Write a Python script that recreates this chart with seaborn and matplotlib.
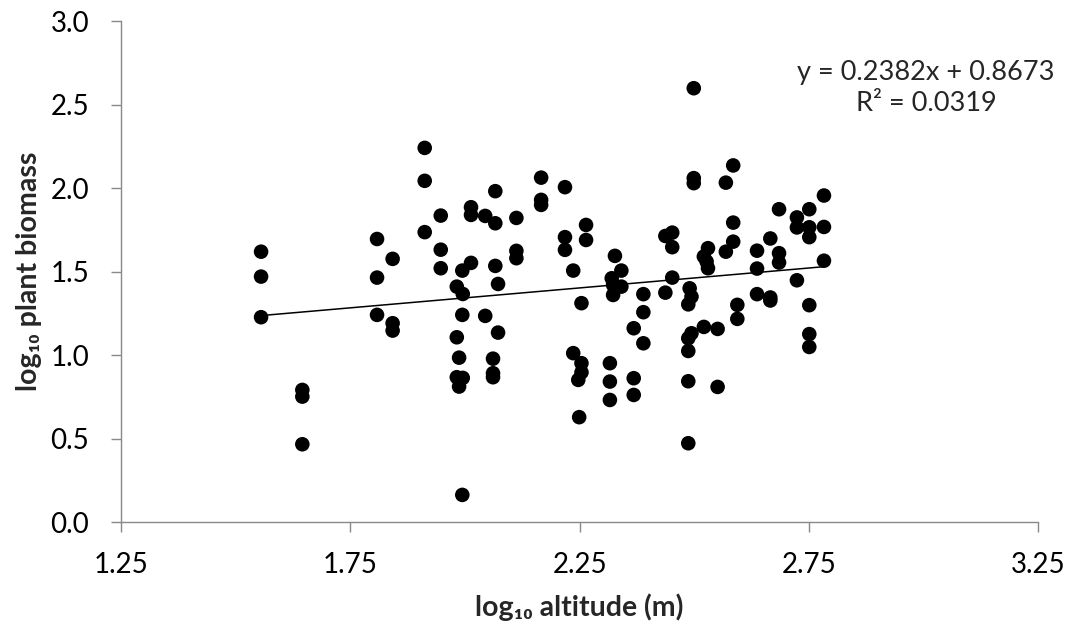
import numpy as np
import pandas as pd
import seaborn as sns
import matplotlib
matplotlib.use("Agg")
import matplotlib.pyplot as plt

# log10 altitude (m) and log10 plant biomass
altitude = [
    1.555, 1.555, 1.555,
    1.645, 1.645, 1.645,
    1.808, 1.808, 1.808,
    1.842, 1.842, 1.842,
    1.912, 1.912, 1.912,
    1.947, 1.947, 1.947,
    1.982, 1.982, 1.982,
    1.995, 1.995, 1.994, 1.994, 1.994,
    1.987, 1.987,
    2.013, 2.013, 2.013,
    2.044, 2.044,
    2.066, 2.066, 2.066,
    2.072, 2.072,
    2.061, 2.061, 2.061,
    2.112, 2.112, 2.112,
    2.166, 2.166, 2.166,
    2.218, 2.218, 2.218,
    2.236, 2.236,
    2.254, 2.254, 2.254,
    2.247, 2.249,
    2.264, 2.264,
    2.327, 2.341, 2.341, 2.320, 2.323, 2.323,
    2.316, 2.316, 2.316,
    2.368, 2.368, 2.368,
    2.389, 2.389, 2.389,
    2.437, 2.437,
    2.452, 2.452, 2.452,
    2.490, 2.494, 2.494,
    2.487, 2.487, 2.487, 2.487, 2.487,
    2.499, 2.499, 2.499,
    2.521, 2.551, 2.551,
    2.530, 2.530, 2.521, 2.527,
    2.569, 2.569,
    2.585, 2.585, 2.585,
    2.594, 2.594,
    2.637, 2.637, 2.637,
    2.666, 2.666, 2.666,
    2.685, 2.685, 2.685,
    2.724, 2.724, 2.724,
    2.751, 2.751, 2.751, 2.751, 2.751, 2.751,
    2.783, 2.783, 2.783,
]
biomass = [
    1.620, 1.471, 1.228,
    0.793, 0.753, 0.468,
    1.696, 1.465, 1.242,
    1.577, 1.192, 1.148,
    2.241, 2.044, 1.737,
    1.836, 1.632, 1.521,
    1.411, 1.108, 0.869,
    1.367, 0.865, 1.242, 0.165, 1.507,
    0.986, 0.813,
    1.553, 1.886, 1.840,
    1.834, 1.236,
    1.982, 1.790, 1.535,
    1.427, 1.136,
    0.980, 0.893, 0.869,
    1.822, 1.625, 1.581,
    2.063, 1.930, 1.900,
    2.006, 1.707, 1.631,
    1.507, 1.013,
    1.312, 0.953, 0.898,
    0.853, 0.630,
    1.780, 1.690,
    1.595, 1.507, 1.411, 1.461, 1.421, 1.361,
    0.953, 0.843, 0.733,
    1.162, 0.863, 0.763,
    1.366, 1.258, 1.072,
    1.714, 1.375,
    1.734, 1.647, 1.465,
    1.401, 1.351, 1.132,
    1.305, 1.102, 1.026, 0.845, 0.474,
    2.598, 2.060, 2.030,
    1.170, 1.158, 0.811,
    1.641, 1.521, 1.591, 1.561,
    2.033, 1.620,
    2.136, 1.794, 1.680,
    1.302, 1.218,
    1.626, 1.519, 1.366,
    1.699, 1.346, 1.328,
    1.874, 1.611, 1.555,
    1.825, 1.765, 1.449,
    1.874, 1.766, 1.707, 1.300, 1.127, 1.050,
    1.956, 1.768, 1.566,
]

# trendline as printed on the chart
slope = 0.2382
intercept = 0.8673
r_squared = 0.0319

x_ticks = [1.25, 1.75, 2.25, 2.75, 3.25]
y_ticks = [0.0, 0.5, 1.0, 1.5, 2.0, 2.5, 3.0]

df = pd.DataFrame({"altitude": altitude, "biomass": biomass})

sns.set_theme(style="white")
plt.rcParams["font.family"] = ["Lato", "DejaVu Sans"]

fig = plt.figure(figsize=(10.77, 6.33), dpi=100)
ax = fig.add_axes([0.1126, 0.1746, 0.8512, 0.7922])

sns.scatterplot(data=df, x="altitude", y="biomass", color="black",
                s=110, edgecolor="none", ax=ax, zorder=3)

## trendline over the data range
x_line = np.array([min(altitude), max(altitude)])
ax.plot(x_line, slope * x_line + intercept, color="black", lw=1.1, zorder=2)

fig.text(0.860, 0.886, "y = {:.4f}x + {:.4f}".format(slope, intercept),
         ha="center", va="center", fontsize=19.5)
fig.text(0.860, 0.836, "R² = {:.4f}".format(r_squared),
         ha="center", va="center", fontsize=19.5)

ax.set_xlim(1.25, 3.25)
ax.set_ylim(0, 3.0)
ax.set_xticks(x_ticks)
ax.set_xticklabels(["{:.2f}".format(v) for v in x_ticks])
ax.set_yticks(y_ticks)
ax.set_yticklabels(["{:.1f}".format(v) for v in y_ticks])

for side in ["top", "right"]:
    ax.spines[side].set_visible(False)
for side in ["left", "bottom"]:
    ax.spines[side].set_color("#898989")
    ax.spines[side].set_linewidth(1.0)

ax.tick_params(axis="both", direction="out", length=7, width=1.0,
               color="#898989", labelsize=20, labelcolor="black",
               bottom=True, left=True)
ax.tick_params(axis="x", pad=14)
ax.tick_params(axis="y", pad=16)

ax.set_xlabel("log₁₀ altitude (m)", fontsize=20.5, fontweight="bold", labelpad=11)
ax.set_ylabel("log₁₀ plant biomass", fontsize=20.5, fontweight="bold", labelpad=6)

fig.savefig("out.png", dpi=100)
